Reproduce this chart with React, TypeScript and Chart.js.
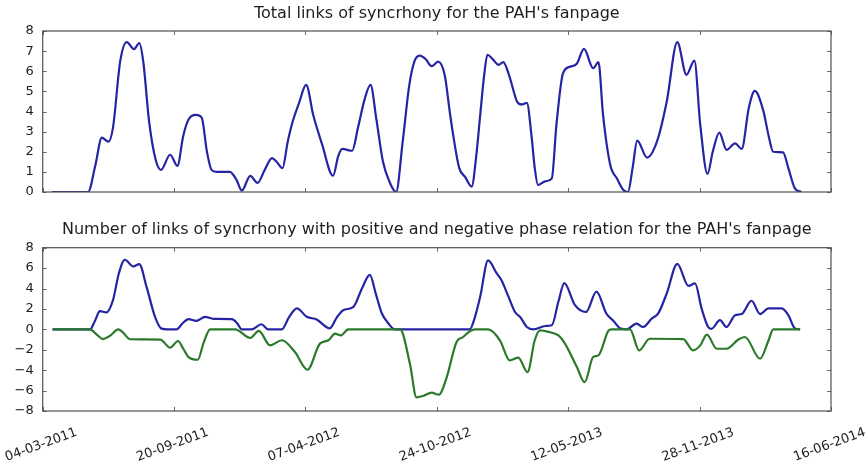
import { useEffect, useRef } from "react";
import { Chart, registerables } from "chart.js";

Chart.register(...registerables);

// x positions are days since 04-03-2011
const tickDays = [0, 200, 400, 600, 800, 1000, 1200];
const tickLabels = ["04-03-2011", "20-09-2011", "07-04-2012", "24-10-2012", "12-05-2013", "28-11-2013", "16-06-2014"];

const topTitle = "Total links of syncrhony for the PAH's fanpage";
const bottomTitle = "Number of links of syncrhony with positive and negative phase relation for the PAH's fanpage";

const totalDays = [14, 69, 80, 90, 100, 107, 118, 128, 139, 147, 153, 162, 172, 180, 194, 205, 214, 222, 233, 242, 250, 257, 265, 285, 295, 303, 316, 327, 338, 349, 356, 365, 373, 381, 390, 401, 412, 425, 442, 450, 456, 471, 480, 490, 499, 508, 518, 528, 538, 548, 558, 566, 574, 583, 592, 602, 612, 620, 625, 634, 643, 653, 660, 666, 672, 677, 685, 694, 701, 710, 722, 729, 737, 744, 749, 754, 765, 775, 782, 792, 803, 813, 824, 838, 846, 853, 864, 874, 884, 891, 898, 905, 920, 935, 950, 966, 980, 992, 1001, 1012, 1020, 1030, 1041, 1054, 1064, 1075, 1084, 1097, 1105, 1112, 1127, 1135, 1145, 1155];
const totalLinks = [0, 0, 1.3, 2.7, 2.5, 3.2, 6.5, 7.45, 7.1, 7.4, 6.5, 3.5, 1.6, 1.1, 1.85, 1.3, 2.8, 3.6, 3.83, 3.7, 2.0, 1.1, 1.0, 1.0, 0.6, 0.07, 0.8, 0.45, 1.1, 1.68, 1.5, 1.18, 2.5, 3.55, 4.4, 5.32, 3.8, 2.4, 0.81, 1.8, 2.14, 2.05, 3.2, 4.6, 5.32, 3.6, 1.5, 0.5, 0.0, 2.5, 5.3, 6.5, 6.78, 6.6, 6.25, 6.48, 5.8, 3.9, 2.8, 1.2, 0.75, 0.27, 1.8, 3.83, 5.8, 6.82, 6.6, 6.32, 6.45, 5.8, 4.5, 4.35, 4.43, 2.83, 1.2, 0.35, 0.53, 0.68, 3.33, 5.9, 6.23, 6.37, 7.11, 6.15, 6.45, 3.83, 1.34, 0.68, 0.1, 0.0, 1.2, 2.55, 1.71, 2.5, 4.5, 7.45, 5.82, 6.53, 3.33, 0.9, 2.0, 2.95, 2.09, 2.42, 2.14, 4.2, 5.02, 4.03, 2.8, 2.0, 1.97, 1.2, 0.18, 0.0];

const positiveDays = [15, 72, 80, 87, 97, 107, 116, 125, 138, 147, 158, 171, 181, 190, 204, 213, 222, 234, 247, 260, 288, 296, 303, 318, 333, 343, 364, 375, 387, 402, 417, 437, 448, 458, 473, 486, 498, 507, 516, 526, 536, 650, 658, 666, 678, 691, 698, 709, 719, 727, 737, 747, 765, 775, 785, 794, 810, 827, 843, 858, 869, 879, 889, 904, 914, 927, 937, 950, 966, 983, 993, 1003, 1013, 1018, 1031, 1041, 1054, 1064, 1079, 1092, 1105, 1125, 1135, 1145, 1153];
const positiveLinks = [0, 0, 0.9, 1.79, 1.67, 2.87, 5.5, 6.82, 6.16, 6.39, 4.19, 1.23, 0.07, 0, 0, 0.6, 1.0, 0.84, 1.23, 1.03, 1.0, 0.6, 0, 0, 0.5, 0, 0, 1.2, 2.05, 1.23, 0.97, 0.1, 1.2, 1.9, 2.2, 4.0, 5.34, 3.5, 1.6, 0.6, 0, 0, 1.2, 3.2, 6.75, 5.5, 4.85, 3.2, 1.7, 1.2, 0.23, 0, 0.33, 0.4, 2.7, 4.52, 2.4, 1.7, 3.7, 1.55, 0.82, 0.1, 0, 0.57, 0.23, 1.05, 1.56, 3.53, 6.42, 4.25, 4.5, 2.05, 0.23, 0.05, 0.9, 0.23, 1.39, 1.5, 2.8, 1.5, 2.05, 2.05, 1.4, 0.1, 0];

const negativeDays = [15, 72, 82, 92, 103, 115, 122, 133, 179, 194, 206, 214, 222, 236, 245, 255, 293, 316, 329, 346, 364, 384, 403, 422, 435, 445, 454, 465, 544, 559, 569, 580, 592, 603, 615, 630, 640, 650, 658, 678, 696, 711, 724, 738, 749, 757, 770, 785, 795, 813, 825, 838, 846, 861, 866, 894, 908, 924, 975, 990, 1001, 1011, 1026, 1041, 1059, 1069, 1092, 1105, 1112, 1153];
const negativeLinks = [0, 0, -0.5, -0.95, -0.6, 0, -0.3, -0.97, -1.0, -1.8, -1.14, -1.9, -2.72, -2.98, -1.3, 0, 0, -0.84, -0.15, -1.57, -1.07, -2.22, -3.96, -1.4, -1.07, -0.41, -0.6, 0, 0, -3.37, -6.66, -6.5, -6.2, -6.4, -4.7, -1.23, -0.75, -0.2, 0, 0, -1.07, -3.04, -2.77, -4.19, -1.07, -0.1, -0.25, -0.6, -1.4, -3.67, -5.18, -2.7, -2.55, -0.15, 0, 0, -2.06, -0.92, -0.95, -2.06, -1.57, -0.51, -1.9, -1.9, -1.0, -0.75, -2.88, -1.07, 0, 0];

const FONT = "'DejaVu Sans', sans-serif";
const BLUE = "#2424a4";
const GREEN = "#2b7a2b";
const TEXT = "#1e1e1e";

const toPoints = (xs: number[], ys: number[]) => xs.map((x, i) => ({ x, y: ys[i] }));

const framePlugin = {
  id: "mplFrame",
  afterDraw(chart: any) {
    const { ctx, chartArea } = chart;
    const { left, right, top, bottom } = chartArea;
    const xs = chart.scales.x;
    const ys = chart.scales.y;
    ctx.save();
    ctx.strokeStyle = "#6a6a6a";
    ctx.lineWidth = 1;
    const L = 4;
    ctx.beginPath();
    tickDays.forEach((d) => {
      const px = Math.round(xs.getPixelForValue(d)) + 0.5;
      ctx.moveTo(px, top);
      ctx.lineTo(px, top + L);
      ctx.moveTo(px, bottom);
      ctx.lineTo(px, bottom - L);
    });
    ys.ticks.forEach((t: any) => {
      const py = Math.round(ys.getPixelForValue(t.value)) + 0.5;
      ctx.moveTo(left, py);
      ctx.lineTo(left + L, py);
      ctx.moveTo(right, py);
      ctx.lineTo(right - L, py);
    });
    ctx.stroke();
    ctx.strokeStyle = "#505050";
    ctx.lineWidth = 1.2;
    ctx.strokeRect(left, top, right - left, bottom - top);
    ctx.restore();
  },
};

const xLabelPlugin = {
  id: "rotatedXLabels",
  afterDraw(chart: any) {
    const { ctx, chartArea } = chart;
    const xs = chart.scales.x;
    ctx.save();
    ctx.fillStyle = TEXT;
    ctx.font = `13px ${FONT}`;
    ctx.textAlign = "center";
    ctx.textBaseline = "middle";
    tickDays.forEach((d, i) => {
      const px = xs.getPixelForValue(d);
      ctx.save();
      ctx.translate(px - 1.5, chartArea.bottom + 34);
      ctx.rotate((-20 * Math.PI) / 180);
      ctx.fillText(tickLabels[i], 0, 0);
      ctx.restore();
    });
    ctx.restore();
  },
};

function baseOptions(
  title: string,
  yMin: number,
  yMax: number,
  step: number,
  padTop: number,
  padBottom: number,
  titlePadBottom: number
) {
  return {
    responsive: false,
    animation: false as const,
    layout: { padding: { left: 0, right: 35, top: padTop, bottom: padBottom } },
    plugins: {
      legend: { display: false },
      tooltip: { enabled: false },
      title: {
        display: true,
        text: title,
        fullSize: false,
        color: TEXT,
        font: { family: FONT, size: 16, weight: "normal" as const, lineHeight: 1.2 },
        padding: { top: 4.7, bottom: titlePadBottom },
      },
    },
    scales: {
      x: { type: "linear" as const, min: 0, max: 1200, display: false },
      y: {
        min: yMin,
        max: yMax,
        grid: { display: false, drawTicks: false },
        border: { display: false },
        ticks: {
          stepSize: step,
          padding: 9,
          color: TEXT,
          font: { family: FONT, size: 13 },
          callback: (v: any) => (Number(v) < 0 ? "\u2212" + Math.abs(Number(v)) : String(v)),
        },
        afterFit: (s: any) => {
          s.width = 42.7;
        },
      },
    },
  };
}

export default function App() {
  const topRef = useRef<HTMLCanvasElement>(null);
  const botRef = useRef<HTMLCanvasElement>(null);

  useEffect(() => {
    const top = new Chart(topRef.current as HTMLCanvasElement, {
      type: "line",
      data: {
        datasets: [
          {
            data: toPoints(totalDays, totalLinks),
            borderColor: BLUE,
            borderWidth: 2.2,
            pointRadius: 0,
            cubicInterpolationMode: "monotone",
            fill: false,
          },
        ],
      },
      options: baseOptions(topTitle, 0, 8, 1, 0, 17, 7.1) as any,
      plugins: [framePlugin],
    });
    const bottom = new Chart(botRef.current as HTMLCanvasElement, {
      type: "line",
      data: {
        datasets: [
          {
            data: toPoints(positiveDays, positiveLinks),
            borderColor: BLUE,
            borderWidth: 2.2,
            pointRadius: 0,
            cubicInterpolationMode: "monotone",
            fill: false,
            order: 1,
          },
          {
            data: toPoints(negativeDays, negativeLinks),
            borderColor: GREEN,
            borderWidth: 2.2,
            pointRadius: 0,
            cubicInterpolationMode: "monotone",
            fill: false,
            order: 0,
          },
        ],
      },
      options: baseOptions(bottomTitle, -8, 8, 2, 6.2, 56, 8.6) as any,
      plugins: [framePlugin, xLabelPlugin],
    });
    return () => {
      top.destroy();
      bottom.destroy();
    };
  }, []);

  return (
    <div style={{ position: "absolute", left: 0, top: 0, width: 866, height: 467, background: "#fff" }}>
      <canvas ref={topRef} width={866} height={209} style={{ position: "absolute", left: 0, top: 0 }} />
      <canvas ref={botRef} width={866} height={258} style={{ position: "absolute", left: 0, top: 209 }} />
    </div>
  );
}
